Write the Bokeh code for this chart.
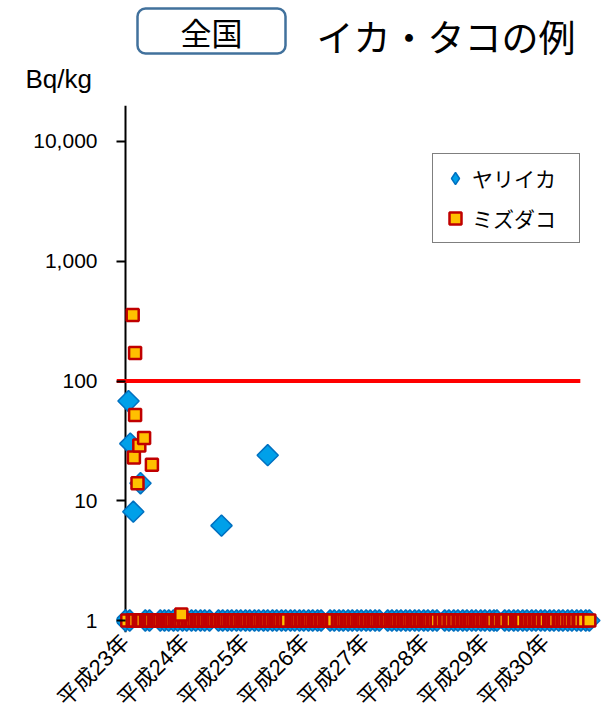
from math import pi
from bokeh.plotting import figure
from bokeh.layouts import column
from bokeh.models import (FixedTicker, NumeralTickFormatter, Legend, LegendItem,
                          Label, BoxAnnotation, Range1d, Span)
from bokeh.embed import file_html
from bokeh.resources import INLINE

# ---------------- data ----------------
# x = years since start of 平成23年 (tick positions), y = Bq/kg (ND plotted at 1)
year_ticks = [0, 1, 2, 3, 4, 5, 6, 7]
year_labels = ["平成23年", "平成24年", "平成25年", "平成26年",
               "平成27年", "平成28年", "平成29年", "平成30年"]
y_ticks = [1, 10, 100, 1000, 10000]
limit_value = 100
limit_x = [-0.15, 7.58]
nd_level = 1

# ヤリイカ: detected values
squid_det_x = [0.05, 0.08, 0.13, 0.25, 1.60, 2.37]
squid_det_y = [68, 30, 8.1, 14, 6.2, 24]
# ヤリイカ: not-detected samples (plotted at 1)
squid_nd_x = [0.00, 0.07, 0.33, 0.40, 0.58, 0.65, 0.72, 0.80, 0.87, 0.95, 1.02, 1.10,
              1.17, 1.25, 1.32, 1.40, 1.55, 1.62, 1.70, 1.77, 1.85, 1.92, 2.00, 2.07,
              2.15, 2.22, 2.30, 2.37, 2.45, 2.52, 2.60, 2.67, 2.75, 2.82, 2.90, 2.97,
              3.05, 3.12, 3.20, 3.26, 3.41, 3.48, 3.56, 3.63, 3.71, 3.78, 3.86, 3.93,
              4.01, 4.08, 4.16, 4.23, 4.37, 4.44, 4.52, 4.59, 4.67, 4.74, 4.82, 4.89,
              4.97, 5.04, 5.12, 5.19, 5.32, 5.39, 5.47, 5.54, 5.62, 5.69, 5.77, 5.84,
              5.92, 5.99, 6.07, 6.14, 6.19, 6.32, 6.39, 6.47, 6.54, 6.62, 6.69, 6.77,
              6.84, 6.92, 6.99, 7.07, 7.14, 7.22, 7.29, 7.37, 7.44, 7.52, 7.59, 7.67,
              7.73]

# ミズダコ: detected values
octo_det_x = [0.12, 0.14, 0.16, 0.16, 0.20, 0.23, 0.31, 0.44, 0.93]
octo_det_y = [355, 23, 171, 52, 14, 29, 33.5, 20, 1.12]
# ミズダコ: not-detected samples (plotted at 1)
octo_nd_x = [0.03, 0.12, 0.16, 0.22, 0.25, 0.28, 0.34, 0.37, 0.40, 0.43, 0.48, 0.51,
             0.54, 0.58, 0.62, 0.65, 0.68, 0.71, 0.74, 0.78, 0.82,
             0.86, 0.89, 0.93, 0.97, 1.00, 1.04, 1.08, 1.11, 1.15, 1.19, 1.22, 1.26,
             1.30, 1.33, 1.37, 1.41, 1.44, 1.48, 1.52, 1.55, 1.59, 1.63, 1.66, 1.70,
             1.74, 1.77, 1.81, 1.85, 1.88, 1.92, 1.96, 1.99, 2.03, 2.07, 2.10, 2.14,
             2.18, 2.21, 2.25, 2.29, 2.32, 2.36, 2.40, 2.43, 2.47, 2.51, 2.54, 2.58,
             2.62, 2.65, 2.69,
             2.77, 2.81, 2.84, 2.88, 2.92, 2.95, 2.99, 3.03, 3.06, 3.10, 3.14, 3.17,
             3.21, 3.25, 3.28, 3.32, 3.36, 3.39, 3.43, 3.46,
             3.54, 3.58, 3.61, 3.65, 3.69, 3.72, 3.76, 3.80, 3.83, 3.87, 3.91, 3.94,
             3.98, 4.02, 4.05, 4.09, 4.13, 4.16, 4.20, 4.24, 4.27, 4.31, 4.35, 4.38,
             4.42, 4.46, 4.49, 4.53, 4.57, 4.60, 4.64, 4.68, 4.71, 4.75, 4.79, 4.82,
             4.86, 4.90, 4.93, 4.97, 5.01, 5.04, 5.08, 5.12, 5.15, 5.19,
             5.25, 5.27, 5.32, 5.35, 5.40, 5.43, 5.48, 5.50, 5.55,
             5.58, 5.62, 5.65, 5.69, 5.73, 5.76, 5.80, 5.84, 5.87, 5.91, 5.95, 5.98,
             6.02, 6.06, 6.09, 6.13,
             6.19, 6.22, 6.27, 6.30, 6.33, 6.39, 6.42, 6.45, 6.51, 6.54, 6.57, 6.61,
             6.68, 6.71, 6.75, 6.78, 6.82, 6.85, 6.89, 6.92, 6.97, 7.00, 7.06, 7.09,
             7.13, 7.16, 7.22, 7.25, 7.29, 7.33, 7.38, 7.42, 7.47, 7.50, 7.55, 7.58,
             7.64, 7.73]

squid_x = squid_nd_x + squid_det_x
squid_y = [nd_level] * len(squid_nd_x) + squid_det_y
octo_x = octo_nd_x + octo_det_x
octo_y = [nd_level] * len(octo_nd_x) + octo_det_y

# ---------------- header (title box, title, unit) ----------------
HEAD_H = 95
t = figure(width=601, height=HEAD_H, output_backend="svg", toolbar_location=None,
           x_range=Range1d(0, 601), y_range=Range1d(HEAD_H, 0),
           x_axis_location=None, y_axis_location=None, min_border=0)
t.frame_align = False
t.grid.visible = False
t.outline_line_color = None
t.add_layout(BoxAnnotation(left=137, right=285, top=8, bottom=53,
                           fill_alpha=0, line_color="#41719C", line_alpha=1,
                           line_width=2.5, border_radius=8))
t.add_layout(Label(x=211, y=31, text="全国", text_align="center",
                   text_baseline="middle", text_font="Noto Sans CJK JP",
                   text_font_size="31px", text_color="black"))
t.add_layout(Label(x=316, y=35, text="イカ・タコの例", text_align="left",
                   text_baseline="middle", text_font="Noto Sans CJK JP",
                   text_font_size="37px", text_color="black"))
t.add_layout(Label(x=25, y=78, text="Bq/kg", text_align="left",
                   text_baseline="middle", text_font="Liberation Sans",
                   text_font_size="26px", text_color="black"))

# ---------------- main chart ----------------
FL = 116            # frame left (px)
FT = 105 - HEAD_H   # frame top within main figure
FB_MAIN = 91        # bottom border
MAIN_H = 723 - HEAD_H
FB = 632            # frame bottom in page px (for legend placement)

p = figure(width=601, height=MAIN_H, output_backend="svg", toolbar_location=None,
           y_axis_type="log",
           x_range=Range1d(-0.15, 7.933), y_range=Range1d(0.794, 19980),
           min_border_left=FL, min_border_right=0, min_border_top=FT,
           min_border_bottom=FB_MAIN)
p.frame_align = False
p.outline_line_color = None
p.xgrid.visible = False
p.ygrid.visible = False
p.background_fill_color = "white"

# y axis (ticks run from frame edge to the x=0 line)
ya = p.yaxis[0]
ya.ticker = FixedTicker(ticks=y_ticks, minor_ticks=[])
ya.formatter = NumeralTickFormatter(format="0,0")
ya.axis_line_color = None
ya.major_tick_line_color = "black"
ya.major_tick_line_width = 2
ya.major_tick_out = 0
ya.major_tick_in = 9
ya.minor_tick_line_color = None
ya.major_label_standoff = 19
ya.major_label_text_font = "Liberation Sans"
ya.major_label_text_font_size = "21px"
ya.major_label_text_color = "black"
p.add_layout(Span(location=0, dimension="height", line_color="black",
                  line_width=2, level="underlay"))

# x axis
xa = p.xaxis[0]
xa.ticker = FixedTicker(ticks=year_ticks, minor_ticks=[])
xa.major_label_overrides = {t_: lab for t_, lab in zip(year_ticks, year_labels)}
xa.major_label_orientation = pi / 4
xa.axis_line_color = None
xa.major_tick_line_color = None
xa.minor_tick_line_color = None
xa.major_tick_out = 0
xa.major_label_standoff = 6
xa.major_label_text_font = "'Liberation Sans', 'Noto Sans CJK JP'"
xa.major_label_text_font_size = "22px"
xa.major_label_text_color = "black"

# threshold line
p.line(x=limit_x, y=[limit_value, limit_value], line_color="#FF0000", line_width=4)

# series
squid = p.scatter(x=squid_x, y=squid_y, marker="square", angle=pi / 4, size=15,
                  fill_color="#00A0E9", line_color="#0070C0", line_width=1.5)
octo = p.scatter(x=octo_x, y=octo_y, marker="square", size=12,
                 fill_color="#FFC000", line_color="#C00000", line_width=2.5)
squid_key = p.scatter(x=[float("nan")], y=[float("nan")], marker="diamond",
                      fill_color="#00A0E9", line_color="#0070C0", line_width=1.5)

legend = Legend(items=[LegendItem(label="ヤリイカ", renderers=[squid_key]),
                       LegendItem(label="ミズダコ", renderers=[octo])],
                location=(432 - FL, FB - 243), orientation="vertical",
                border_line_color="black", border_line_width=1.5,
                background_fill_color="white", background_fill_alpha=1,
                padding=7, spacing=6, margin=0,
                glyph_width=30, glyph_height=34, label_standoff=2,
                label_width=100, label_text_font="Noto Sans CJK JP",
                label_text_font_size="21px", label_text_color="black")
p.add_layout(legend)

layout = column(t, p, spacing=0)

with open("out.html", "w") as f:
    f.write(file_html(layout, INLINE))
